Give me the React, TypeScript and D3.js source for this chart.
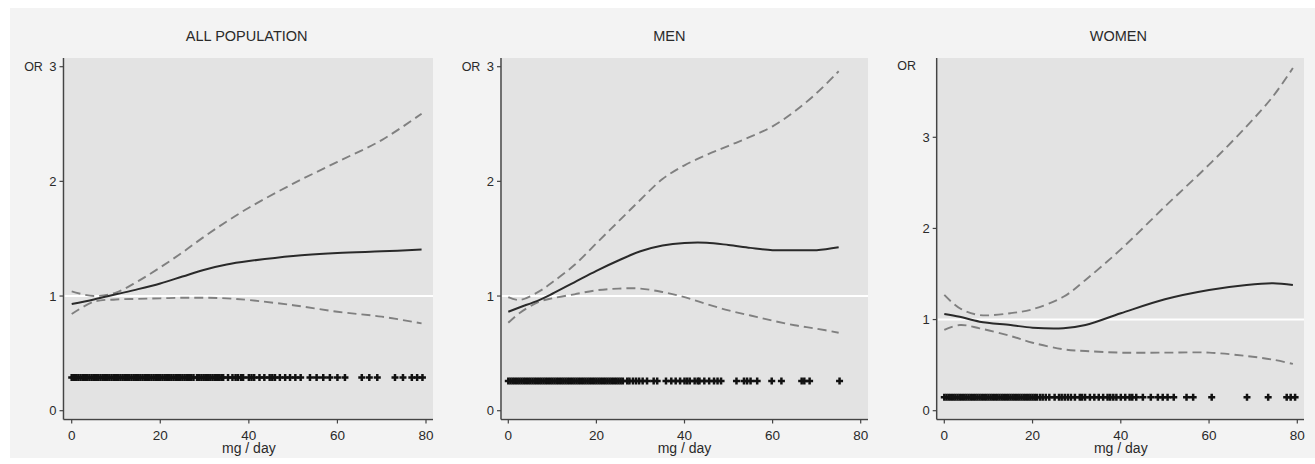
import React from 'react';
import * as d3 from 'd3';

// ---------- data ----------
const panelTitles = ['ALL POPULATION', 'MEN', 'WOMEN'];
const xTicks = [0, 20, 40, 60, 80];
const yTicks = [0, 1, 2, 3];
const refOR = 1;

// ALL POPULATION
const allGrid = [0, 5, 10, 15, 20, 25, 30, 35, 40, 50, 60, 70, 79];
const allEst = [0.93, 0.97, 1.015, 1.06, 1.11, 1.17, 1.23, 1.275, 1.305, 1.35, 1.375, 1.39, 1.405];
const allUpper = [1.04, 1.0, 1.03, 1.13, 1.25, 1.38, 1.52, 1.65, 1.77, 1.98, 2.17, 2.36, 2.59];
const allLower = [0.843, 0.95, 0.97, 0.975, 0.98, 0.985, 0.985, 0.98, 0.965, 0.92, 0.863, 0.82, 0.762];
const allRug = [0, 0.5, 1, 1.5, 2, 2.5, 3, 3.5, 4, 4.5, 5, 5.5, 6, 6.5, 7, 7.5, 8, 8.5, 9, 9.5, 10, 10.5, 11, 11.5, 12, 12.5, 13, 13.5, 14, 14.5, 15, 15.5, 16, 16.5, 17, 17.5, 18, 18.5, 19, 19.5, 20, 20.5, 21, 21.5, 22, 22.5, 23, 23.5, 24, 24.5, 25, 25.5, 26, 26.5, 27, 27.5, 28.3, 28.8, 29.3, 29.8, 30.3, 30.8, 31.3, 31.8, 32.3, 32.8, 33.3, 33.8, 34.2, 35.3, 36.3, 37, 37.5, 38.2, 38.7, 40, 40.6, 41.2, 42.4, 43.5, 44.7, 45.3, 45.9, 47, 48.2, 49.3, 50.5, 51.7, 53.8, 55.3, 56.8, 58.3, 60, 61.7, 65.5, 67.2, 69, 73, 74.8, 76.8, 78, 79.2];

// MEN
const menGrid = [0, 2.5, 7, 10, 15, 20, 25, 30, 35, 40, 45, 50, 55, 60, 65, 70, 75];
const menEst = [0.863, 0.9, 0.965, 1.02, 1.12, 1.22, 1.31, 1.39, 1.44, 1.463, 1.465, 1.445, 1.42, 1.4, 1.4, 1.4, 1.425];
const menUpper = [0.99, 0.965, 1.04, 1.12, 1.27, 1.46, 1.65, 1.84, 2.02, 2.14, 2.23, 2.31, 2.39, 2.48, 2.61, 2.77, 2.96];
const menLower = [0.767, 0.85, 0.95, 0.98, 1.015, 1.05, 1.065, 1.065, 1.035, 0.99, 0.93, 0.875, 0.83, 0.785, 0.745, 0.715, 0.68];
const menRug = [0, 0.5, 1, 1.5, 2, 2.5, 3, 3.5, 4, 4.5, 5, 5.5, 6, 6.5, 7, 7.5, 8, 8.5, 9, 9.5, 10, 10.5, 11, 11.5, 12, 12.5, 13, 13.5, 14, 14.5, 15, 15.5, 16, 16.5, 17, 17.5, 18, 18.5, 19, 19.5, 20, 20.5, 21, 21.5, 22, 22.5, 23, 23.5, 24, 24.5, 25, 25.5, 26, 27, 27.5, 28.3, 29, 29.7, 30.5, 31.5, 33, 33.8, 35.8, 37, 38, 39, 40, 40.6, 41.2, 42.3, 43, 43.4, 44.5, 45.6, 46.7, 47.5, 48.3, 51.8, 53.5, 54.2, 55, 56.5, 59.8, 62, 66.6, 67.2, 68.4, 75.2];

// WOMEN
const womenGrid = [0, 3.5, 8, 15, 20, 27, 32, 40, 50, 60, 68.5, 74.5, 79];
const womenEst = [1.061, 1.03, 0.977, 0.94, 0.911, 0.905, 0.94, 1.069, 1.223, 1.325, 1.38, 1.398, 1.38];
const womenUpper = [1.27, 1.124, 1.05, 1.07, 1.113, 1.25, 1.435, 1.77, 2.24, 2.7, 3.12, 3.45, 3.76];
const womenLower = [0.886, 0.94, 0.904, 0.82, 0.746, 0.674, 0.655, 0.637, 0.637, 0.637, 0.6, 0.56, 0.513];
const womenRug = [0, 0.5, 1, 1.5, 2, 2.5, 3, 3.5, 4, 4.5, 5, 5.5, 6, 6.5, 7, 7.5, 8, 8.5, 9, 9.5, 10, 10.5, 11, 11.5, 12, 12.5, 13, 13.5, 14, 14.5, 15, 15.5, 16, 16.5, 17, 17.5, 18, 18.5, 19, 19.5, 20, 20.5, 21, 21.7, 22.3, 23, 23.8, 25, 26, 26.6, 27.3, 28, 28.7, 29.6, 30.7, 31.2, 31.9, 33, 34, 35, 36, 37, 37.6, 38.3, 39, 40, 41, 42, 42.6, 43.5, 45, 46.8, 48.4, 49.5, 50.6, 52, 54.9, 56.4, 60.6, 68.6, 73.4, 77.6, 78.5, 79.5];

// ---------- layout ----------
const W = 1315;
const H = 464;
const FONT = '"Liberation Sans", Arial, sans-serif';

interface PanelCfg {
  title: string;
  titleX: number;
  axisX: number;
  plotLeft: number;
  plotRight: number;
  x0: number;
  x80: number;
  y0: number;
  y3: number;
  orY: number;
  rugOR: number;
  grid: number[];
  est: number[];
  upper: number[];
  lower: number[];
  rug: number[];
}

const panels: PanelCfg[] = [
  { title: panelTitles[0], titleX: 246.7, axisX: 63.5, plotLeft: 64.5, plotRight: 433, x0: 71.7, x80: 426, y0: 410.7, y3: 66.7, orY: 66.7, rugOR: 0.29, grid: allGrid, est: allEst, upper: allUpper, lower: allLower, rug: allRug },
  { title: panelTitles[1], titleX: 669.3, axisX: 501, plotLeft: 502, plotRight: 868, x0: 508.3, x80: 860.7, y0: 410.7, y3: 66.7, orY: 66.7, rugOR: 0.26, grid: menGrid, est: menEst, upper: menUpper, lower: menLower, rug: menRug },
  { title: panelTitles[2], titleX: 1118.3, axisX: 936.7, plotLeft: 937.7, plotRight: 1304, x0: 944.3, x80: 1297.3, y0: 410.7, y3: 137.3, orY: 65, rugOR: 0.147, grid: womenGrid, est: womenEst, upper: womenUpper, lower: womenLower, rug: womenRug },
];

const PLOT_TOP = 58;
const PLOT_BOTTOM = 418;
const XAXIS_Y = 419.5;

function Panel({ p }: { p: PanelCfg }) {
  const x = d3.scaleLinear().domain([0, 80]).range([p.x0, p.x80]);
  const y = d3.scaleLinear().domain([0, 3]).range([p.y0, p.y3]);
  const line = d3
    .line<number>()
    .x((_, i) => x(p.grid[i]))
    .y((d) => y(d))
    .curve(d3.curveCatmullRom.alpha(0.5));
  const plus = 'M-3.5,0H3.5M0,-3.5V3.5';
  return (
    <g>
      <text x={p.titleX} y={40.5} textAnchor="middle" fontSize={14.5} fill="#2a2a2a" fontFamily={FONT}>
        {p.title}
      </text>
      <rect x={p.plotLeft} y={PLOT_TOP} width={p.plotRight - p.plotLeft} height={PLOT_BOTTOM - PLOT_TOP} fill="#e3e3e3" />
      <line x1={p.plotLeft} x2={p.plotRight} y1={y(refOR)} y2={y(refOR)} stroke="#ffffff" strokeWidth={2} />
      {/* rug */}
      <g stroke="#111" strokeWidth={2.5}>
        {p.rug.map((v, i) => (
          <path key={i} d={plus} transform={`translate(${x(v)},${y(p.rugOR)})`} />
        ))}
      </g>
      <path d={line(p.upper) || ''} fill="none" stroke="#808080" strokeWidth={1.9} strokeDasharray="9,5" />
      <path d={line(p.lower) || ''} fill="none" stroke="#808080" strokeWidth={1.9} strokeDasharray="9,5" />
      <path d={line(p.est) || ''} fill="none" stroke="#2a2a2a" strokeWidth={2} />
      {/* y axis */}
      <line x1={p.axisX} x2={p.axisX} y1={PLOT_TOP} y2={XAXIS_Y} stroke="#444" strokeWidth={1.5} />
      {yTicks.map((t) => (
        <g key={t}>
          <line x1={p.axisX - 4} x2={p.axisX} y1={y(t)} y2={y(t)} stroke="#444" strokeWidth={1.2} />
          <text x={p.axisX - 7} y={y(t)} dy="0.36em" textAnchor="end" fontSize={13} fill="#2a2a2a" fontFamily={FONT}>
            {t}
          </text>
        </g>
      ))}
      <text x={p.axisX - 30} y={p.orY} dy="0.36em" textAnchor="middle" fontSize={12.5} fill="#2a2a2a" fontFamily={FONT}>
        OR
      </text>
      {/* x axis */}
      <line x1={p.axisX} x2={p.plotRight} y1={XAXIS_Y} y2={XAXIS_Y} stroke="#444" strokeWidth={1.5} />
      {xTicks.map((t) => (
        <g key={t}>
          <line x1={x(t)} x2={x(t)} y1={XAXIS_Y} y2={XAXIS_Y + 4} stroke="#444" strokeWidth={1.2} />
          <text x={x(t)} y={439.5} textAnchor="middle" fontSize={13.5} fill="#2a2a2a" fontFamily={FONT}>
            {t}
          </text>
        </g>
      ))}
      <text x={x(40)} y={453} textAnchor="middle" fontSize={14} fill="#2a2a2a" fontFamily={FONT}>
        mg / day
      </text>
    </g>
  );
}

export default function App() {
  return (
    <svg width={W} height={H} style={{ position: 'absolute', left: 0, top: 0, display: 'block' }}>
      <rect x={0} y={0} width={W} height={H} fill="#ffffff" />
      <rect x={10} y={8} width={W - 10} height={450} fill="#f3f3f3" />
      {panels.map((p) => (
        <Panel key={p.title} p={p} />
      ))}
    </svg>
  );
}
